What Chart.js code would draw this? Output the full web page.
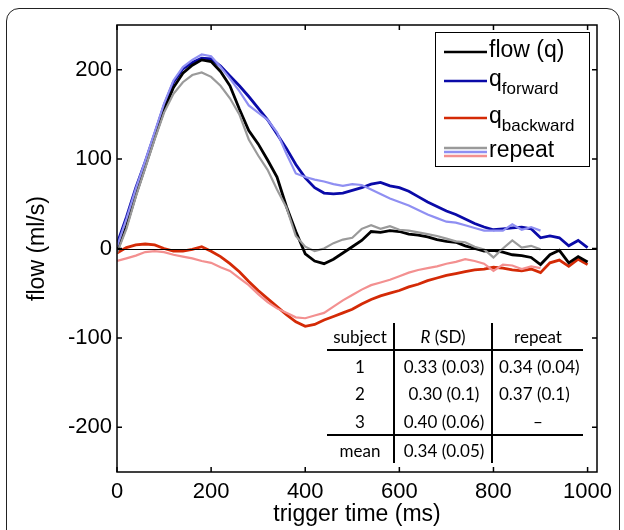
<!DOCTYPE html>
<html>
<head>
<meta charset="utf-8">
<script src="https://cdn.jsdelivr.net/npm/chart.js@4.4.1/dist/chart.umd.min.js"></script>
<style>
  html, body { margin: 0; padding: 0; background: #fff; }
  #wrap { position: relative; width: 624px; height: 530px; overflow: hidden; }
  #frame {
    position: absolute; left: 6px; top: 8px; width: 614px; height: 580px;
    border: 1.5px solid #222; border-radius: 13px; box-sizing: border-box;
  }
  #chart { position: absolute; left: 0; top: 0; }
</style>
</head>
<body>
<div id="wrap">
  <div id="frame"></div>
  <canvas id="chart" width="624" height="530"></canvas>
</div>
<script>
// time axis samples (ms)
const timeMain = [0, 20, 40, 60, 80, 100, 120, 140, 160, 180, 200, 220, 240, 260, 280, 300, 320, 340, 360, 380,
  400, 420, 440, 460, 480, 500, 520, 540, 560, 580, 600, 620, 640, 660, 680, 700, 720, 740, 760, 780,
  800, 820, 840, 860, 880, 900, 920, 940, 960, 980, 1000];
const timeRepeat = [0, 20, 40, 60, 80, 100, 120, 140, 160, 180, 200, 220, 240, 260, 280, 300, 320, 340, 360, 380,
  400, 420, 440, 460, 480, 500, 520, 540, 560, 580, 600, 620, 640, 660, 680, 700, 720, 740, 760, 780,
  800, 820, 840, 860, 880, 900];

// flow (ml/s)
const flowQ = [-3, 25, 60, 92, 124, 155, 180, 196, 205, 211, 209, 198, 182, 156, 132, 117, 99, 80, 47, 19,
  -6, -14, -17, -12, -5, 2, 9, 19, 18, 20, 19, 16, 15, 13, 10, 8, 7, 3, 0, -3,
  -2, -4, -7, -8, -10, -18, -7, -2, -16, -9, -15];
const qForward = [5, 35, 68, 97, 128, 160, 186, 201, 208, 213, 212, 204, 193, 182, 170, 157, 144, 128, 112, 94,
  79, 68, 62, 61, 62, 65, 68, 72, 74, 70, 68, 64, 58, 52, 47, 42, 38, 33, 28, 24,
  21, 22, 23, 24, 22, 12, 14, 12, 3, 9, 1];
const qBackward = [-5, 1, 4, 5, 4, 0, -3, -3, -1, 2, -3, -9, -17, -26, -37, -47, -56, -65, -74, -82,
  -87, -85, -80, -76, -72, -68, -62, -57, -53, -50, -47, -43, -40, -36, -33, -30, -28, -26, -24, -23,
  -21, -22, -24, -25, -23, -27, -16, -13, -20, -12, -18];
const flowRepeat = [-5, 22, 58, 90, 122, 152, 173, 186, 194, 197, 192, 182, 168, 150, 122, 104, 88, 66, 46, 14,
  2, -3, 0, 6, 10, 12, 22, 26, 22, 25, 21, 20, 18, 16, 14, 11, 8, 7, 2, -1,
  -10, 0, 9, 1, 3, -1];
const forwardRepeat = [2, 33, 67, 98, 130, 162, 188, 203, 211, 217, 215, 203, 190, 176, 160, 152, 144, 130, 106, 84,
  80, 77, 75, 72, 70, 72, 71, 66, 61, 56, 52, 48, 43, 38, 34, 30, 29, 26, 23, 20,
  20, 20, 27, 21, 24, 20];
const backwardRepeat = [-14, -11, -8, -4, -3, -4, -7, -9, -11, -14, -16, -21, -25, -33, -41, -51, -60, -67, -72, -77,
  -78, -75, -72, -65, -58, -52, -46, -41, -38, -35, -31, -27, -24, -22, -20, -17, -15, -12, -14, -17,
  -25, -18, -19, -23, -20, -22];

const xTicks = [0, 200, 400, 600, 800, 1000];
const yTicks = [-200, -100, 0, 100, 200];

// inset table
const tableHeader = ["subject", "R", "repeat"];
const tableSubjects = ["1", "2", "3", "mean"];
const tableR = ["0.33 (0.03)", "0.30 (0.1)", "0.40 (0.06)", "0.34 (0.05)"];
const tableRepeat = ["0.34 (0.04)", "0.37 (0.1)", "–", ""];

const FONT = '"Liberation Sans", Arial, sans-serif';
const TABLE_FONT = 'Lato, "Open Sans", sans-serif';

const COLORS = {
  flow: "#000000",
  forward: "#0a0aa8",
  backward: "#d42a06",
  flowRep: "#9a9a9a",
  forwardRep: "#8f8ff2",
  backwardRep: "#f39090",
};

function pts(times, values) {
  return values.map((v, i) => ({ x: times[i], y: v }));
}

function line(data, color, width, order) {
  return {
    data,
    borderColor: color,
    backgroundColor: "transparent",
    borderWidth: width,
    pointRadius: 0,
    tension: 0,
    fill: false,
    order,
  };
}

// box, inward ticks, zero line
const axesBox = {
  id: "axesBox",
  afterDatasetsDraw(chart) {
    const { ctx, chartArea: a, scales } = chart;
    const y0 = scales.y.getPixelForValue(0);
    ctx.save();
    ctx.strokeStyle = "#000";
    ctx.lineWidth = 1;
    ctx.beginPath();
    ctx.moveTo(a.left, Math.round(y0) + 0.5);
    ctx.lineTo(a.right, Math.round(y0) + 0.5);
    ctx.stroke();

    ctx.lineWidth = 1.5;
    ctx.strokeRect(a.left, a.top, a.right - a.left, a.bottom - a.top);
    const len = 5;
    ctx.beginPath();
    xTicks.forEach((t) => {
      const px = scales.x.getPixelForValue(t);
      ctx.moveTo(px, a.bottom); ctx.lineTo(px, a.bottom - len);
      ctx.moveTo(px, a.top); ctx.lineTo(px, a.top + len);
    });
    yTicks.forEach((t) => {
      const py = scales.y.getPixelForValue(t);
      ctx.moveTo(a.left, py); ctx.lineTo(a.left + len, py);
      ctx.moveTo(a.right, py); ctx.lineTo(a.right - len, py);
    });
    ctx.stroke();
    ctx.restore();
  },
};

// legend with subscripts
const legendBox = {
  id: "legendBox",
  afterDraw(chart) {
    const ctx = chart.ctx;
    ctx.save();
    ctx.fillStyle = "#fff";
    ctx.fillRect(435.5, 32.5, 154, 134);
    ctx.strokeStyle = "#000";
    ctx.lineWidth = 1;
    ctx.strokeRect(435.5, 32.5, 154, 134);

    const x1 = 444, x2 = 487, tx = 489;
    const seg = (y, color) => {
      ctx.strokeStyle = color;
      ctx.lineWidth = 2.5;
      ctx.beginPath();
      ctx.moveTo(x1, y); ctx.lineTo(x2, y);
      ctx.stroke();
    };
    ctx.fillStyle = "#000";
    ctx.textBaseline = "alphabetic";
    ctx.textAlign = "left";

    seg(52, COLORS.flow);
    ctx.font = "23px " + FONT;
    ctx.fillText("flow (q)", tx, 57);

    const subEntry = (y, color, sub) => {
      seg(y, color);
      ctx.fillStyle = "#000";
      ctx.font = "23px " + FONT;
      ctx.fillText("q", tx, y + 5);
      const w = ctx.measureText("q").width;
      ctx.font = "17px " + FONT;
      ctx.fillText(sub, tx + w, y + 13);
    };
    subEntry(81, COLORS.forward, "forward");
    subEntry(118, COLORS.backward, "backward");

    seg(148, COLORS.flowRep);
    seg(152, COLORS.forwardRep);
    seg(156, COLORS.backwardRep);
    ctx.fillStyle = "#000";
    ctx.font = "23px " + FONT;
    ctx.fillText("repeat", tx, 157);
    ctx.restore();
  },
};

// inset table
const insetTable = {
  id: "insetTable",
  afterDraw(chart) {
    const ctx = chart.ctx;
    ctx.save();
    ctx.strokeStyle = "#000";
    ctx.lineWidth = 2;
    ctx.beginPath();
    ctx.moveTo(327, 350); ctx.lineTo(583, 350);
    ctx.moveTo(327, 435); ctx.lineTo(583, 435);
    ctx.moveTo(394, 323); ctx.lineTo(394, 463);
    ctx.moveTo(492, 323); ctx.lineTo(492, 463);
    ctx.stroke();

    ctx.fillStyle = "#000";
    ctx.textBaseline = "alphabetic";
    ctx.font = "17px " + TABLE_FONT;
    ctx.textAlign = "center";
    ctx.fillText(tableHeader[0], 360, 343);
    ctx.fillText(tableHeader[2], 538, 343);
    // "R (SD)" with italic R
    ctx.font = "italic 17px " + TABLE_FONT;
    const wR = ctx.measureText(tableHeader[1]).width;
    ctx.font = "17px " + TABLE_FONT;
    const rest = " (SD)";
    const wRest = ctx.measureText(rest).width;
    const start = 443 - (wR + wRest) / 2;
    ctx.textAlign = "left";
    ctx.font = "italic 17px " + TABLE_FONT;
    ctx.fillText(tableHeader[1], start, 343);
    ctx.font = "17px " + TABLE_FONT;
    ctx.fillText(rest, start + wR, 343);

    const rowsY = [373, 400, 428, 457];
    tableSubjects.forEach((s, i) => {
      const y = rowsY[i];
      ctx.textAlign = "center";
      ctx.fillText(s, 360, y);
      ctx.fillText(tableR[i], 444, y);
      if (tableRepeat[i] === "–") {
        ctx.fillText(tableRepeat[i], 538, y);
      } else if (tableRepeat[i]) {
        ctx.textAlign = "left";
        ctx.fillText(tableRepeat[i], 499, y);
      }
    });
    ctx.restore();
  },
};

const datasets = [
  line(pts(timeMain, flowQ), COLORS.flow, 2.8, 2),
  line(pts(timeMain, qForward), COLORS.forward, 2.8, 2),
  line(pts(timeMain, qBackward), COLORS.backward, 2.8, 2),
  line(pts(timeRepeat, flowRepeat), COLORS.flowRep, 2.2, 1),
  line(pts(timeRepeat, forwardRepeat), COLORS.forwardRep, 2.2, 1),
  line(pts(timeRepeat, backwardRepeat), COLORS.backwardRep, 2.2, 1),
];

new Chart(document.getElementById("chart"), {
  type: "line",
  data: { datasets },
  options: {
    responsive: false,
    animation: false,
    devicePixelRatio: 1,
    layout: { padding: { left: 0, right: 27, top: 25, bottom: 0 } },
    plugins: { legend: { display: false }, tooltip: { enabled: false } },
    scales: {
      x: {
        type: "linear",
        min: 0,
        max: 1020,
        afterBuildTicks: (s) => { s.ticks = xTicks.map((v) => ({ value: v })); },
        afterFit: (s) => { s.height = 58; },
        grid: { display: false, drawTicks: false },
        border: { display: false },
        ticks: {
          color: "#000", padding: 7, maxRotation: 0,
          font: { family: FONT, size: 22 },
          callback: (v) => String(v),
        },
        title: {
          display: true, text: "trigger time (ms)", color: "#000",
          font: { family: FONT, size: 23 }, padding: { top: 0, bottom: 2 },
        },
      },
      y: {
        type: "linear",
        min: -250,
        max: 250,
        afterBuildTicks: (s) => { s.ticks = yTicks.map((v) => ({ value: v })); },
        afterFit: (s) => { s.width = 117; },
        grid: { display: false, drawTicks: false },
        border: { display: false },
        ticks: {
          color: "#000", padding: 5,
          font: { family: FONT, size: 22 },
          callback: (v) => String(v),
        },
        title: {
          display: true, text: "flow (ml/s)", color: "#000",
          font: { family: FONT, size: 23 }, padding: { top: 24, bottom: 0 },
        },
      },
    },
  },
  plugins: [axesBox, legendBox, insetTable],
});
</script>
</body>
</html>
